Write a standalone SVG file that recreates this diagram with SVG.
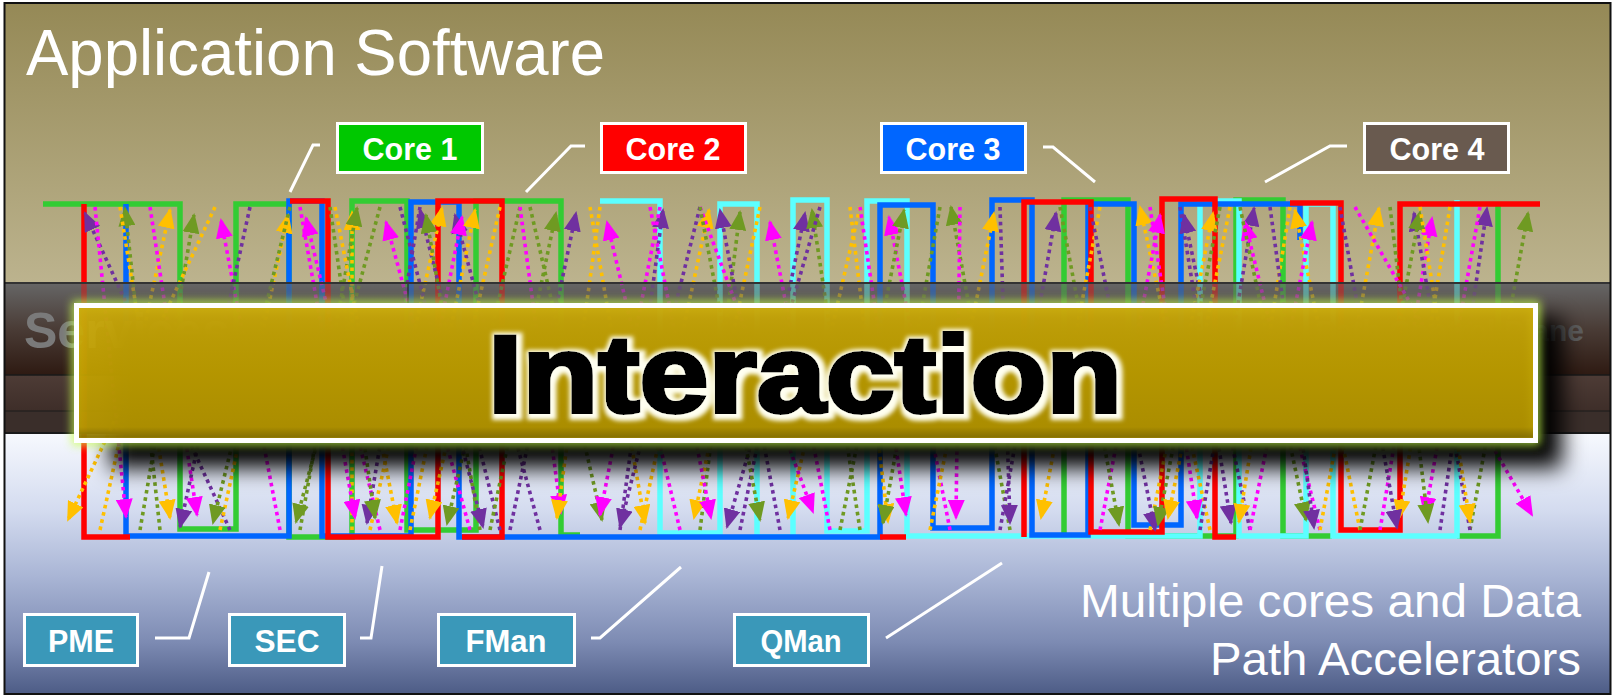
<svg xmlns="http://www.w3.org/2000/svg" width="1614" height="697" viewBox="0 0 1614 697">
<defs>
<linearGradient id="gTop" x1="0" y1="0" x2="0" y2="1"><stop offset="0" stop-color="#958956"/><stop offset="1" stop-color="#BCB38E"/></linearGradient>
<linearGradient id="gMid1" x1="0" y1="0" x2="0" y2="1"><stop offset="0" stop-color="#666666"/><stop offset="0.5" stop-color="#4A3C36"/><stop offset="1" stop-color="#2E1A12"/></linearGradient>
<linearGradient id="gMid2" x1="0" y1="0" x2="0" y2="1"><stop offset="0" stop-color="#4E3C36"/><stop offset="1" stop-color="#3E2E29"/></linearGradient>
<linearGradient id="gBot" x1="0" y1="0" x2="0" y2="1"><stop offset="0" stop-color="#F7F9FE"/><stop offset="0.3" stop-color="#D3DBEF"/><stop offset="0.55" stop-color="#A9B5D5"/><stop offset="0.8" stop-color="#7D8BB3"/><stop offset="1" stop-color="#4D5C86"/></linearGradient>
<linearGradient id="gBox" x1="0" y1="0" x2="0" y2="1"><stop offset="0" stop-color="#CDAB0A"/><stop offset="0.5" stop-color="#C2A100"/><stop offset="0.9" stop-color="#B89800"/><stop offset="0.97" stop-color="#8C7300"/><stop offset="1" stop-color="#B09200"/></linearGradient>
<filter id="blur5" x="-5%" y="-30%" width="110%" height="160%"><feGaussianBlur stdDeviation="5"/></filter>
<filter id="shadow" x="-5%" y="-40%" width="110%" height="180%"><feGaussianBlur stdDeviation="11"/></filter>
<filter id="halo" x="-10%" y="-30%" width="120%" height="160%">
<feMorphology in="SourceAlpha" operator="dilate" radius="4" result="d"/>
<feGaussianBlur in="d" stdDeviation="2" result="b"/>
<feOffset in="b" dx="2" dy="2" result="o"/>
<feFlood flood-color="#FFFFF0"/>
<feComposite in2="o" operator="in" result="w"/>
<feMerge><feMergeNode in="w"/><feMergeNode in="SourceGraphic"/></feMerge>
</filter>
<marker id="mp" markerUnits="userSpaceOnUse" markerWidth="20" markerHeight="17" viewBox="0 0 20 17" refX="18" refY="8.5" orient="auto"><path d="M0,0 L20,8.5 L0,17 z" fill="#7030A0"/></marker>
<marker id="mo" markerUnits="userSpaceOnUse" markerWidth="20" markerHeight="17" viewBox="0 0 20 17" refX="18" refY="8.5" orient="auto"><path d="M0,0 L20,8.5 L0,17 z" fill="#FFC000"/></marker>
<marker id="mm" markerUnits="userSpaceOnUse" markerWidth="20" markerHeight="17" viewBox="0 0 20 17" refX="18" refY="8.5" orient="auto"><path d="M0,0 L20,8.5 L0,17 z" fill="#FF00FF"/></marker>
<marker id="mg" markerUnits="userSpaceOnUse" markerWidth="20" markerHeight="17" viewBox="0 0 20 17" refX="18" refY="8.5" orient="auto"><path d="M0,0 L20,8.5 L0,17 z" fill="#6F9A22"/></marker>
<style>
.w{fill:none;stroke-width:5.5;stroke-linejoin:miter}
.wg{stroke:#33CC33}.wr{stroke:#FF0000}.wb{stroke:#0066FF}.wc{stroke:#5CFFFF}
.d{fill:none;stroke-width:3.6;stroke-dasharray:3.6 3.8}
.p{stroke:#7030A0;marker-end:url(#mp)}
.o{stroke:#FFC000;marker-end:url(#mo)}
.m{stroke:#FF00FF;marker-end:url(#mm)}
.g{stroke:#6F9A22;marker-end:url(#mg)}
.lead{fill:none;stroke:#FFFFFF;stroke-width:3}
.lbl{font-family:"Liberation Sans",Arial,sans-serif;font-weight:bold;font-size:31px;fill:#FFFFFF;text-anchor:middle}
.box{stroke:#FFFFFF;stroke-width:3}
.big{font-family:"Liberation Sans",Arial,sans-serif;fill:#FFFFFF}
</style>
</defs>

<!-- backgrounds -->
<rect x="0" y="0" width="1614" height="697" fill="#FFFFFF"/>
<rect x="5" y="3" width="1605" height="280" fill="url(#gTop)"/>
<g id="midbase">
<rect x="5" y="283" width="1605" height="92" fill="url(#gMid1)"/>
<rect x="5" y="375" width="1605" height="36" fill="url(#gMid2)"/>
<rect x="5" y="411" width="1605" height="22" fill="#3A2E2A"/>
</g>
<rect x="5" y="433" width="1605" height="261" fill="url(#gBot)"/>

<text class="big" x="26" y="75" font-size="64" textLength="579" lengthAdjust="spacingAndGlyphs">Application Software</text>

<!-- connectors: square waves and dotted arrows -->
<g id="connectors">
<path class="w wg" d="M43,204 H180 V529 H236 V204 H289 V537 H352 V201 H407 V530 H476 V201 H561 V535 H580"/>
<path class="w wg" d="M1064,536 V200 H1128 V536 H1236 V200 H1283 V536 H1332 M1457,536 H1498 V204"/>
<path class="w wc" d="M600,201 H660 V533 H720 V204 H757 V537 H793 V200 H827 V531 H867 V201 H907 V536 H1200 V201 H1239 V536 H1306 V204 H1333 V536 H1457 V200"/>
<path class="w wb" d="M126,204 V536 H289 V201 H322 V536 H411 V202 H459 V537 H880 V205 H933 V528 H992 V200 H1032 V535 H1088 V204 H1134 V525 H1181 V204 H1300 V240"/>
<path class="w wr" d="M84,204 V537 H130 M290,201 H328 V537 H438 V201 H502 V537 H462 M880,537 H906 M1024,537 V202 H1091 V532 H1162 V199 H1215 V537 H1236 M1290,203 H1341 V530 H1400 V204 H1540"/>

<line class="d p" x1="230" y1="530" x2="85" y2="213"/>
<line class="d g" x1="160" y1="530" x2="125" y2="208"/>
<line class="d o" x1="100" y1="530" x2="170" y2="210"/>
<line class="d g" x1="140" y1="530" x2="194" y2="215"/>
<line class="d m" x1="280" y1="530" x2="221" y2="220"/>
<line class="d o" x1="220" y1="530" x2="288" y2="215"/>
<line class="d m" x1="380" y1="530" x2="306" y2="218"/>
<line class="d o" x1="352" y1="530" x2="352" y2="212"/>
<line class="d m" x1="470" y1="530" x2="386" y2="222"/>
<line class="d g" x1="300" y1="530" x2="357" y2="208"/>
<line class="d p" x1="500" y1="530" x2="420" y2="210"/>
<line class="d o" x1="370" y1="530" x2="442" y2="208"/>
<line class="d g" x1="480" y1="530" x2="426" y2="215"/>
<line class="d p" x1="540" y1="530" x2="455" y2="215"/>
<line class="d m" x1="400" y1="530" x2="462" y2="217"/>
<line class="d o" x1="410" y1="530" x2="475" y2="210"/>
<line class="d g" x1="490" y1="530" x2="556" y2="213"/>
<line class="d p" x1="510" y1="530" x2="576" y2="213"/>
<line class="d m" x1="680" y1="530" x2="607" y2="222"/>
<line class="d p" x1="620" y1="530" x2="663" y2="210"/>
<line class="d o" x1="640" y1="530" x2="709" y2="210"/>
<line class="d g" x1="700" y1="530" x2="740" y2="212"/>
<line class="d m" x1="830" y1="530" x2="770" y2="222"/>
<line class="d p" x1="780" y1="530" x2="720" y2="210"/>
<line class="d p" x1="740" y1="530" x2="805" y2="213"/>
<line class="d g" x1="860" y1="530" x2="812" y2="210"/>
<line class="d m" x1="950" y1="530" x2="889" y2="217"/>
<line class="d g" x1="840" y1="530" x2="904" y2="210"/>
<line class="d g" x1="1010" y1="530" x2="951" y2="207"/>
<line class="d o" x1="930" y1="530" x2="994" y2="213"/>
<line class="d p" x1="1000" y1="530" x2="1056" y2="213"/>
<line class="d o" x1="1210" y1="530" x2="1140" y2="207"/>
<line class="d m" x1="1100" y1="530" x2="1160" y2="215"/>
<line class="d p" x1="1250" y1="530" x2="1184" y2="215"/>
<line class="d o" x1="1150" y1="530" x2="1213" y2="213"/>
<line class="d p" x1="1200" y1="530" x2="1254" y2="208"/>
<line class="d m" x1="1320" y1="530" x2="1245" y2="222"/>
<line class="d o" x1="1360" y1="530" x2="1295" y2="210"/>
<line class="d m" x1="1250" y1="530" x2="1312" y2="222"/>
<line class="d o" x1="1320" y1="530" x2="1379" y2="208"/>
<line class="d m" x1="1380" y1="530" x2="1432" y2="218"/>
<line class="d p" x1="1440" y1="530" x2="1487" y2="208"/>
<line class="d g" x1="1470" y1="530" x2="1528" y2="213"/>
<line class="d p" x1="1470" y1="530" x2="1414" y2="213"/>
<line class="d g" x1="1360" y1="530" x2="1420" y2="212"/>

<line class="d o" x1="215" y1="207" x2="68" y2="520"/>
<line class="d m" x1="95" y1="207" x2="126" y2="517"/>
<line class="d o" x1="120" y1="207" x2="170" y2="518"/>
<line class="d p" x1="250" y1="207" x2="180" y2="527"/>
<line class="d m" x1="150" y1="207" x2="197" y2="515"/>
<line class="d g" x1="290" y1="207" x2="213" y2="523"/>
<line class="d g" x1="380" y1="207" x2="296" y2="522"/>
<line class="d m" x1="300" y1="207" x2="355" y2="518"/>
<line class="d p" x1="420" y1="207" x2="367" y2="523"/>
<line class="d g" x1="330" y1="207" x2="375" y2="518"/>
<line class="d o" x1="335" y1="207" x2="397" y2="523"/>
<line class="d o" x1="500" y1="207" x2="430" y2="518"/>
<line class="d g" x1="520" y1="207" x2="447" y2="524"/>
<line class="d p" x1="400" y1="207" x2="483" y2="527"/>
<line class="d m" x1="520" y1="207" x2="561" y2="513"/>
<line class="d o" x1="600" y1="207" x2="557" y2="518"/>
<line class="d g" x1="530" y1="207" x2="602" y2="520"/>
<line class="d o" x1="590" y1="207" x2="645" y2="523"/>
<line class="d o" x1="760" y1="207" x2="694" y2="518"/>
<line class="d m" x1="650" y1="207" x2="711" y2="518"/>
<line class="d p" x1="820" y1="207" x2="727" y2="527"/>
<line class="d o" x1="860" y1="207" x2="788" y2="518"/>
<line class="d m" x1="700" y1="207" x2="813" y2="512"/>
<line class="d o" x1="850" y1="207" x2="888" y2="522"/>
<line class="d g" x1="940" y1="207" x2="883" y2="523"/>
<line class="d m" x1="860" y1="207" x2="906" y2="515"/>
<line class="d m" x1="960" y1="207" x2="956" y2="518"/>
<line class="d p" x1="1000" y1="207" x2="1010" y2="523"/>
<line class="d o" x1="1100" y1="207" x2="1041" y2="518"/>
<line class="d g" x1="1060" y1="207" x2="1119" y2="525"/>
<line class="d p" x1="1090" y1="207" x2="1155" y2="530"/>
<line class="d g" x1="1220" y1="207" x2="1158" y2="525"/>
<line class="d o" x1="1230" y1="207" x2="1168" y2="518"/>
<line class="d m" x1="1150" y1="207" x2="1197" y2="518"/>
<line class="d p" x1="1180" y1="207" x2="1231" y2="523"/>
<line class="d o" x1="1290" y1="207" x2="1239" y2="522"/>
<line class="d g" x1="1240" y1="207" x2="1306" y2="520"/>
<line class="d p" x1="1270" y1="207" x2="1314" y2="528"/>
<line class="d o" x1="1450" y1="207" x2="1399" y2="518"/>
<line class="d p" x1="1340" y1="207" x2="1397" y2="528"/>
<line class="d m" x1="1480" y1="207" x2="1425" y2="515"/>
<line class="d g" x1="1390" y1="207" x2="1428" y2="522"/>
<line class="d o" x1="1420" y1="207" x2="1470" y2="522"/>
<line class="d m" x1="1355" y1="207" x2="1532" y2="515"/>
<line class="d p" x1="700" y1="207" x2="620" y2="527"/>
<line class="d g" x1="700" y1="207" x2="760" y2="520"/>
<line class="d m" x1="660" y1="207" x2="600" y2="515"/>
</g>

<!-- middle band overlay (darkens the lines passing behind it) -->
<g id="midband" opacity="0.6">
<rect x="5" y="283" width="1605" height="92" fill="url(#gMid1)"/>
<rect x="5" y="375" width="1605" height="36" fill="url(#gMid2)"/>
<rect x="5" y="411" width="1605" height="22" fill="#3A2E2A"/>
</g>
<g fill="none" stroke="#1A1A1A">
<line x1="5" y1="283" x2="1610" y2="283" stroke-width="2" stroke="#333"/>
<line x1="5" y1="375" x2="1610" y2="375" stroke-width="1.5"/>
<line x1="5" y1="411" x2="1610" y2="411" stroke-width="1"/>
<line x1="5" y1="433" x2="1610" y2="433" stroke-width="2"/>
<line x1="408" y1="284" x2="408" y2="305" stroke-width="1"/>
</g>
<text x="24" y="348" font-family="'Liberation Sans',Arial,sans-serif" font-weight="bold" font-size="50" fill="#7A7A7A">Services</text>
<text x="1584" y="341" font-family="'Liberation Sans',Arial,sans-serif" font-weight="bold" font-size="30" fill="#5E5E5E" text-anchor="end">Path Control Plane</text>

<!-- Interaction banner -->
<g id="interaction">
<rect x="110" y="318" width="1452" height="150" fill="#000" opacity="1" filter="url(#shadow)"/>
<rect x="76.5" y="305.5" width="1459" height="135" fill="none" stroke="#C8FF50" stroke-width="9" opacity="0.85" filter="url(#blur5)"/>
<rect x="76.5" y="305.5" width="1459" height="135" fill="url(#gBox)" fill-opacity="0.93" stroke="#FFFFFF" stroke-width="5"/>
<text x="488" y="412" font-family="'Liberation Sans',Arial,sans-serif" font-weight="bold" font-size="110" fill="#000" stroke="#000" stroke-width="4" textLength="634" lengthAdjust="spacingAndGlyphs" filter="url(#halo)">Interaction</text>
</g>

<!-- Core labels -->
<g id="core1"><polyline class="lead" points="320,145 313,145 290,192"/><rect class="box" x="337.5" y="123.5" width="145" height="49" fill="#00C800"/><text class="lbl" x="410" y="160" textLength="95" lengthAdjust="spacingAndGlyphs">Core 1</text></g>
<g id="core2"><polyline class="lead" points="585,146 571,146 526,192"/><rect class="box" x="601.5" y="123.5" width="144" height="49" fill="#FF0000"/><text class="lbl" x="673" y="160" textLength="95" lengthAdjust="spacingAndGlyphs">Core 2</text></g>
<g id="core3"><polyline class="lead" points="1043,147 1053,147 1095,182"/><rect class="box" x="881.5" y="123.5" width="144" height="49" fill="#0066FF"/><text class="lbl" x="953" y="160" textLength="95" lengthAdjust="spacingAndGlyphs">Core 3</text></g>
<g id="core4"><polyline class="lead" points="1347,146 1330,146 1265,182"/><rect class="box" x="1364.5" y="123.5" width="144" height="49" fill="#695A4F"/><text class="lbl" x="1437" y="160" textLength="95" lengthAdjust="spacingAndGlyphs">Core 4</text></g>

<!-- Accelerator labels -->
<g id="pme"><polyline class="lead" points="155,638 189,638 209,572"/><rect class="box" x="24.5" y="614.5" width="113" height="51" fill="#3A98B9"/><text class="lbl" x="81" y="652" textLength="66" lengthAdjust="spacingAndGlyphs">PME</text></g>
<g id="sec"><polyline class="lead" points="360,638 371,638 382,566"/><rect class="box" x="229.5" y="614.5" width="115" height="51" fill="#3A98B9"/><text class="lbl" x="287" y="652" textLength="65" lengthAdjust="spacingAndGlyphs">SEC</text></g>
<g id="fman"><polyline class="lead" points="591,638 600,638 681,567"/><rect class="box" x="438.5" y="614.5" width="136" height="51" fill="#3A98B9"/><text class="lbl" x="506" y="652" textLength="81" lengthAdjust="spacingAndGlyphs">FMan</text></g>
<g id="qman"><polyline class="lead" points="886,638 1002,563"/><rect class="box" x="734.5" y="614.5" width="134" height="51" fill="#3A98B9"/><text class="lbl" x="801" y="652" textLength="81" lengthAdjust="spacingAndGlyphs">QMan</text></g>

<text class="big" x="1581" y="617" font-size="46" text-anchor="end" textLength="501" lengthAdjust="spacingAndGlyphs">Multiple cores and Data</text>
<text class="big" x="1581" y="675" font-size="46" text-anchor="end" textLength="371" lengthAdjust="spacingAndGlyphs">Path Accelerators</text>

<rect x="4.5" y="3" width="1606" height="691" fill="none" stroke="#111" stroke-width="2"/>
</svg>
